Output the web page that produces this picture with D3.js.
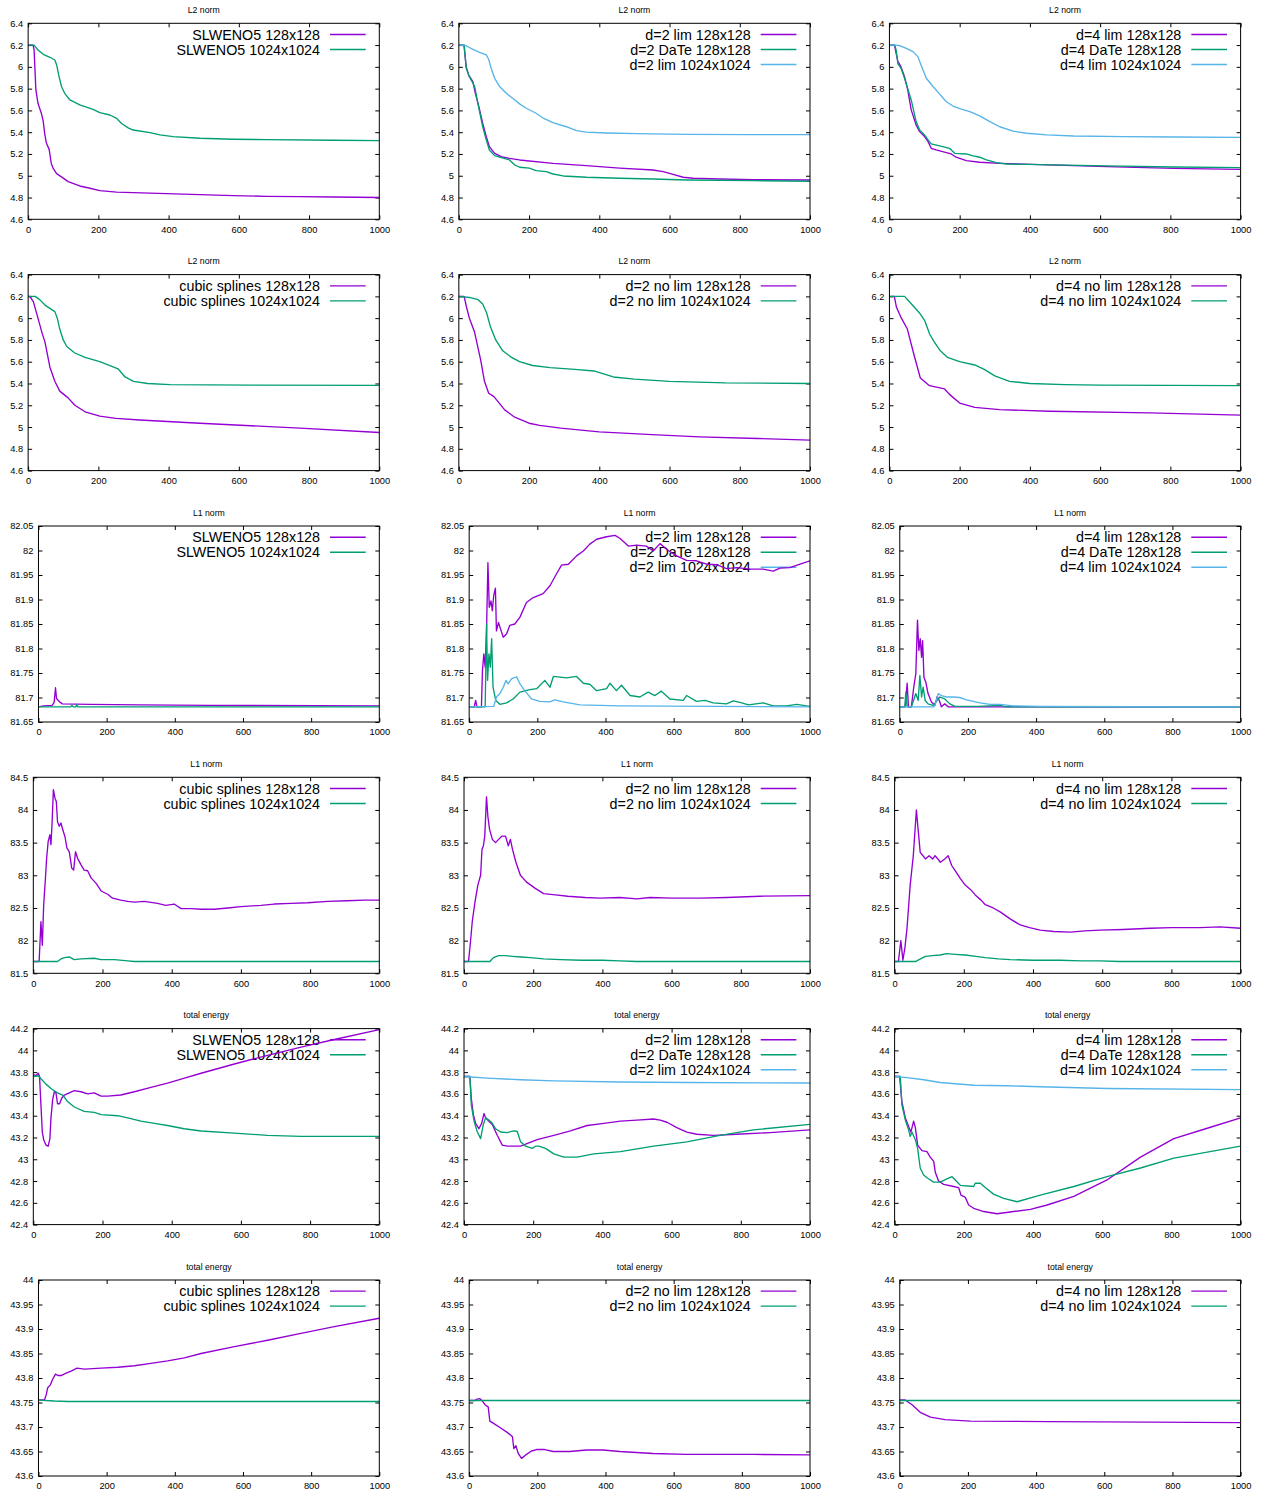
<!DOCTYPE html>
<html>
<head>
<meta charset="utf-8">
<script src="https://cdn.jsdelivr.net/npm/d3@7"></script>
<style>
  body { margin: 0; background: #fff; }
  svg { display: block; font-family: "Liberation Sans", Arial, sans-serif; }
</style>
</head>
<body>
<div id="chart"></div>
<script>
// ---- tick values ----
const xTicks = [0, 200, 400, 600, 800, 1000];
const ticksL2 = [4.6, 4.8, 5, 5.2, 5.4, 5.6, 5.8, 6, 6.2, 6.4];
const ticksL1a = [81.65, 81.7, 81.75, 81.8, 81.85, 81.9, 81.95, 82, 82.05];
const ticksL1b = [81.5, 82, 82.5, 83, 83.5, 84, 84.5];
const ticksEa = [42.4, 42.6, 42.8, 43, 43.2, 43.4, 43.6, 43.8, 44, 44.2];
const ticksEb = [43.6, 43.65, 43.7, 43.75, 43.8, 43.85, 43.9, 43.95, 44];

// ---- legend labels ----
const labelsSlweno = ['SLWENO5 128x128', 'SLWENO5 1024x1024'];
const labelsCubic = ['cubic splines 128x128', 'cubic splines 1024x1024'];
const labelsD2 = ['d=2 lim 128x128', 'd=2 DaTe 128x128', 'd=2 lim 1024x1024'];
const labelsD4 = ['d=4 lim 128x128', 'd=4 DaTe 128x128', 'd=4 lim 1024x1024'];
const labelsD2nolim = ['d=2 no lim 128x128', 'd=2 no lim 1024x1024'];
const labelsD4nolim = ['d=4 no lim 128x128', 'd=4 no lim 1024x1024'];

// ---- L2 norm ----
const l2Slweno128 = [[0,6.2],[14,6.2],[17,6.155],[22,5.79],[28,5.665],[38,5.57],[43,5.5],[47,5.39],[52,5.3],[60,5.24],[66,5.11],[71,5.07],[81,5.02],[95,4.99],[114,4.946],[147,4.906],[176,4.885],[204,4.863],[252,4.85],[299,4.845],[394,4.836],[489,4.827],[584,4.818],[679,4.811],[774,4.808],[869,4.805],[1000,4.8]];
const l2Slweno1024 = [[0,6.2],[17,6.2],[28,6.155],[43,6.115],[62,6.088],[76,6.063],[81,6.02],[88,5.91],[95,5.82],[104,5.757],[119,5.696],[147,5.65],[185,5.61],[204,5.58],[233,5.558],[252,5.527],[266,5.48],[285,5.44],[299,5.42],[347,5.396],[375,5.375],[413,5.359],[489,5.344],[584,5.335],[679,5.332],[869,5.326],[1000,5.322]];
const l2D2lim128 = [[0,6.2],[15,6.2],[16,6.155],[21,6.0],[28,5.925],[40,5.864],[47,5.757],[57,5.635],[68,5.48],[78,5.36],[87,5.267],[102,5.206],[121,5.175],[144,5.16],[173,5.145],[268,5.114],[363,5.093],[458,5.07],[553,5.053],[582,5.038],[610,5.013],[639,4.986],[667,4.977],[743,4.97],[838,4.964],[1000,4.961]];
const l2D2date128 = [[0,6.2],[15,6.2],[16,6.17],[21,5.987],[30,5.91],[45,5.82],[57,5.62],[68,5.45],[78,5.33],[87,5.237],[102,5.185],[121,5.166],[144,5.145],[159,5.1],[173,5.078],[201,5.07],[220,5.047],[249,5.038],[268,5.016],[297,4.998],[363,4.986],[458,4.977],[553,4.97],[648,4.961],[838,4.955],[1000,4.949]];
const l2D2lim1024 = [[0,6.2],[15,6.2],[21,6.194],[40,6.16],[59,6.134],[78,6.11],[85,6.07],[92,5.987],[102,5.895],[116,5.82],[135,5.757],[154,5.71],[173,5.66],[192,5.62],[220,5.574],[240,5.53],[268,5.488],[306,5.45],[335,5.414],[363,5.4],[420,5.393],[506,5.387],[648,5.38],[838,5.378],[1000,5.378]];
const l2D4lim128 = [[0,6.2],[15,6.2],[17,6.155],[24,6.05],[33,6.0],[43,5.91],[52,5.79],[62,5.605],[76,5.466],[86,5.405],[100,5.36],[110,5.313],[119,5.252],[133,5.237],[162,5.212],[176,5.2],[190,5.17],[219,5.139],[257,5.124],[314,5.114],[429,5.102],[619,5.084],[810,5.068],[1000,5.059]];
const l2D4date128 = [[0,6.2],[15,6.2],[19,6.155],[24,6.03],[33,5.987],[43,5.895],[52,5.8],[62,5.696],[76,5.497],[86,5.42],[100,5.375],[110,5.33],[119,5.292],[143,5.274],[171,5.252],[186,5.206],[219,5.2],[238,5.182],[257,5.17],[276,5.145],[305,5.12],[333,5.108],[429,5.102],[619,5.09],[810,5.08],[1000,5.075]];
const l2D4lim1024 = [[0,6.2],[20,6.2],[29,6.194],[48,6.17],[67,6.14],[81,6.094],[90,6.017],[105,5.895],[124,5.82],[143,5.75],[162,5.68],[181,5.64],[200,5.616],[229,5.589],[257,5.55],[286,5.497],[314,5.45],[352,5.41],[390,5.39],[448,5.375],[524,5.365],[667,5.359],[810,5.356],[1000,5.353]];
const l2Cubic128 = [[0,6.2],[5,6.2],[15,6.15],[28,6.0],[40,5.86],[48,5.78],[62,5.55],[76,5.42],[90,5.33],[113,5.27],[133,5.2],[162,5.14],[204,5.1],[250,5.08],[318,5.065],[489,5.035],[774,4.99],[1000,4.95]];
const l2Cubic1024 = [[0,6.2],[20,6.2],[33,6.17],[48,6.12],[62,6.09],[76,6.06],[83,6.0],[90,5.9],[100,5.8],[110,5.74],[133,5.68],[162,5.64],[204,5.6],[233,5.565],[256,5.535],[276,5.46],[300,5.42],[340,5.4],[404,5.39],[632,5.385],[1000,5.383]];
const l2D2nolim128 = [[0,6.2],[15,6.2],[22,6.1],[30,6.0],[45,5.87],[53,5.75],[62,5.62],[73,5.42],[85,5.31],[100,5.28],[115,5.22],[130,5.16],[159,5.09],[200,5.035],[230,5.015],[290,4.99],[400,4.955],[550,4.93],[686,4.91],[850,4.895],[1000,4.88]];
const l2D2nolim1024 = [[0,6.2],[30,6.19],[55,6.17],[68,6.13],[79,6.05],[90,5.92],[105,5.8],[125,5.7],[150,5.64],[173,5.6],[210,5.565],[260,5.545],[330,5.53],[385,5.515],[410,5.49],[440,5.46],[500,5.44],[600,5.42],[760,5.405],[1000,5.4]];
const l2D4nolim128 = [[0,6.2],[14,6.2],[20,6.1],[34,6.0],[51,5.9],[71,5.65],[88,5.45],[114,5.38],[157,5.35],[171,5.3],[200,5.22],[243,5.18],[314,5.16],[456,5.145],[741,5.13],[1000,5.11]];
const l2D4nolim1024 = [[0,6.2],[43,6.2],[57,6.15],[71,6.1],[85,6.05],[100,5.98],[115,5.85],[128,5.78],[145,5.7],[165,5.64],[200,5.6],[243,5.57],[270,5.53],[300,5.47],[342,5.42],[400,5.4],[500,5.39],[600,5.385],[1000,5.38]];

// ---- L1 norm ----
const l1Slweno128 = [[0,81.681],[15,81.683],[40,81.684],[46,81.69],[50,81.72],[53,81.698],[58,81.694],[64,81.69],[70,81.687],[150,81.686],[300,81.685],[500,81.684],[1000,81.683]];
const l1Slweno1024 = [[0,81.681],[95,81.681],[98,81.684],[102,81.681],[110,81.681],[112,81.686],[115,81.681],[1000,81.681]];
const l1D2lim128 = [[0,81.681],[15,81.681],[19,81.694],[23,81.681],[36,81.681],[39,81.755],[43,81.789],[47,81.762],[51,81.836],[55,81.975],[59,81.884],[64,81.897],[68,81.877],[72,81.908],[77,81.923],[80,81.836],[86,81.853],[92,81.84],[100,81.823],[110,81.83],[119,81.847],[134,81.85],[149,81.864],[168,81.894],[188,81.904],[217,81.912],[237,81.928],[256,81.952],[271,81.97],[291,81.972],[315,81.989],[335,81.999],[354,82.013],[374,82.023],[403,82.028],[428,82.031],[442,82.025],[467,82.009],[491,82.011],[520,82.009],[540,81.999],[560,82.014],[584,82.0],[609,81.989],[638,81.98],[667,81.979],[697,81.972],[726,81.971],[755,81.963],[785,81.965],[824,81.962],[863,81.962],[892,81.958],[912,81.964],[941,81.965],[971,81.972],[1000,81.979]];
const l1D2date128 = [[0,81.681],[47,81.681],[51,81.85],[54,81.735],[58,81.789],[62,81.762],[66,81.82],[70,81.721],[78,81.694],[90,81.686],[110,81.689],[129,81.697],[149,81.711],[178,81.716],[198,81.718],[222,81.735],[237,81.721],[247,81.743],[286,81.74],[315,81.743],[335,81.729],[354,81.727],[374,81.714],[403,81.718],[413,81.729],[432,81.714],[447,81.725],[472,81.704],[501,81.701],[525,81.711],[545,81.704],[564,81.713],[589,81.697],[628,81.694],[638,81.704],[667,81.692],[692,81.694],[716,81.689],[755,81.687],[775,81.693],[800,81.689],[819,81.685],[863,81.689],[892,81.683],[931,81.683],[961,81.686],[1000,81.682]];
const l1D2lim1024 = [[0,81.681],[72,81.682],[80,81.701],[90,81.708],[100,81.721],[108,81.735],[114,81.728],[124,81.738],[139,81.742],[149,81.728],[163,81.714],[183,81.697],[207,81.692],[237,81.691],[251,81.695],[276,81.691],[325,81.685],[442,81.683],[1000,81.681]];
const l1D4lim128 = [[0,81.681],[16,81.681],[21.6,81.729],[25.5,81.681],[34,81.681],[41,81.721],[47,81.748],[52,81.858],[56,81.796],[60,81.82],[64,81.782],[67,81.816],[71,81.741],[76.5,81.731],[83,81.708],[93,81.691],[103,81.684],[110,81.702],[116,81.694],[122,81.681],[132,81.687],[142,81.681],[1000,81.681]];
const l1D4date128 = [[0,81.681],[15,81.681],[17.6,81.711],[21.6,81.681],[34,81.681],[39,81.691],[47,81.708],[54,81.694],[59,81.745],[64,81.701],[68.6,81.721],[74.5,81.694],[83,81.687],[98,81.684],[110,81.694],[117.6,81.701],[132,81.697],[147,81.687],[162,81.682],[230,81.682],[294,81.684],[314,81.681],[1000,81.681]];
const l1D4lim1024 = [[0,81.681],[100,81.681],[103,81.684],[113,81.708],[122.5,81.704],[137,81.701],[157,81.701],[176,81.7],[196,81.695],[216,81.692],[235,81.689],[265,81.686],[294,81.686],[333,81.683],[412,81.682],[1000,81.681]];
const l1Cubic128 = [[0,81.68],[15,81.68],[17,81.7],[22,82.29],[26,81.93],[30,82.55],[35,82.95],[38.5,83.26],[43,83.52],[48,83.62],[51,83.47],[54,83.77],[58,84.31],[62.6,84.18],[66.5,84.13],[70,83.82],[75,83.75],[80,83.8],[85,83.7],[91.5,83.59],[97,83.42],[104,83.36],[111,83.11],[116.6,83.08],[122,83.36],[128,83.26],[138,83.16],[147,83.08],[157,83.07],[167,82.96],[181,82.88],[196,82.76],[215,82.71],[229,82.65],[253,82.62],[273,82.6],[292,82.59],[321,82.6],[359,82.57],[383,82.54],[407,82.56],[427,82.49],[456,82.49],[485,82.48],[523,82.48],[562,82.5],[600,82.52],[658,82.54],[696,82.56],[745,82.57],[793,82.58],[851,82.6],[908,82.61],[957,82.62],[1000,82.62]];
const l1Cubic1024 = [[0,81.68],[70,81.68],[80,81.72],[90,81.74],[104,81.75],[118,81.71],[138,81.72],[176,81.73],[196,81.71],[234,81.71],[273,81.69],[292,81.68],[1000,81.68]];
const l1D2nolim128 = [[0,81.68],[13,81.68],[18,81.94],[24,82.3],[32,82.6],[40,82.85],[48,83.0],[52,83.4],[56,83.45],[60,83.6],[65,84.2],[69,83.9],[74,83.7],[82,83.55],[91,83.5],[100,83.55],[110,83.6],[120,83.6],[128,83.45],[134,83.55],[140,83.4],[150,83.2],[163,83.0],[180,82.9],[206,82.8],[230,82.72],[264,82.7],[300,82.68],[350,82.66],[394,82.65],[450,82.66],[500,82.64],[538,82.66],[600,82.65],[682,82.65],[760,82.66],[855,82.68],[1000,82.69]];
const l1D2nolim1024 = [[0,81.68],[75,81.68],[85,81.74],[100,81.77],[120,81.77],[140,81.76],[165,81.75],[192,81.74],[230,81.72],[278,81.71],[340,81.7],[400,81.7],[450,81.69],[500,81.68],[1000,81.68]];
const l1D4nolim128 = [[0,81.68],[11,81.68],[18,82.0],[24,81.7],[30,81.9],[36,82.2],[45,82.85],[50,83.1],[54,83.3],[63,84.0],[68,83.7],[74,83.35],[82,83.3],[89,83.25],[100,83.3],[110,83.25],[117,83.3],[125,83.25],[132,83.2],[145,83.25],[155,83.3],[165,83.15],[175,83.07],[190,82.95],[204,82.85],[220,82.78],[233,82.7],[250,82.62],[262,82.55],[285,82.5],[305,82.44],[335,82.33],[363,82.24],[390,82.2],[421,82.16],[460,82.14],[508,82.13],[550,82.15],[594,82.16],[660,82.17],[739,82.19],[800,82.2],[883,82.2],[940,82.21],[1000,82.19]];
const l1D4nolim1024 = [[0,81.68],[60,81.68],[75,81.72],[89,81.76],[110,81.77],[132,81.78],[150,81.8],[175,81.79],[204,81.78],[235,81.76],[262,81.74],[300,81.72],[334,81.71],[400,81.7],[478,81.7],[540,81.69],[594,81.69],[650,81.68],[1000,81.68]];

// ---- total energy ----
const eSlweno128 = [[0,43.776],[8,43.77],[14.5,43.79],[18,43.76],[22,43.5],[26,43.25],[30,43.18],[36.6,43.13],[43,43.12],[48,43.19],[51,43.38],[56,43.55],[60.7,43.62],[65.5,43.61],[70,43.51],[76,43.51],[82,43.56],[89.6,43.59],[104,43.61],[118.5,43.63],[137.8,43.62],[157,43.6],[176,43.61],[195.6,43.58],[214.8,43.58],[253,43.59],[292,43.62],[340,43.66],[388,43.7],[437,43.745],[485,43.79],[581,43.875],[677,43.955],[774,44.03],[870,44.1],[1000,44.19]];
const eSlweno1024 = [[0,43.76],[14.5,43.767],[22,43.74],[36.6,43.69],[51,43.65],[70,43.61],[85,43.59],[99,43.53],[118.5,43.48],[147,43.44],[176,43.43],[196,43.41],[244,43.4],[273,43.38],[311,43.35],[350,43.33],[388,43.31],[436,43.28],[485,43.26],[581,43.24],[677,43.22],[774,43.21],[1000,43.21]];
const eD2lim128 = [[0,43.76],[17,43.76],[21,43.56],[27,43.41],[33.6,43.33],[43,43.28],[51,43.33],[57.7,43.42],[62.5,43.38],[72,43.35],[81.7,43.32],[96,43.22],[110.6,43.13],[125,43.12],[163.5,43.12],[211.5,43.18],[259.6,43.22],[307.7,43.26],[355.8,43.31],[404,43.33],[452,43.35],[500,43.36],[548,43.37],[567,43.36],[586.5,43.34],[615,43.29],[644,43.25],[673,43.23],[721,43.22],[788.5,43.23],[884.6,43.245],[1000,43.27]];
const eD2date128 = [[0,43.76],[17,43.76],[21,43.5],[29,43.35],[38.5,43.25],[48,43.19],[55.8,43.32],[62.5,43.38],[72,43.36],[81.7,43.33],[91.3,43.28],[105.8,43.25],[125,43.245],[144,43.26],[154,43.255],[163.5,43.16],[178,43.12],[197,43.1],[206.7,43.12],[216,43.12],[235.6,43.1],[259.6,43.05],[288.5,43.02],[327,43.02],[375,43.05],[452,43.07],[548,43.12],[644,43.16],[740,43.22],[836.5,43.27],[1000,43.32]];
const eD2lim1024 = [[0,43.76],[67,43.745],[163,43.73],[260,43.72],[452,43.71],[644,43.705],[1000,43.7]];
const eD4lim128 = [[0,43.76],[14.5,43.76],[21,43.53],[31,43.38],[40.5,43.3],[47,43.25],[55,43.35],[60,43.29],[66.5,43.13],[79,43.08],[93.5,43.07],[103,43.02],[113,42.98],[117.6,42.88],[127,42.8],[141.8,42.77],[170.7,42.75],[185,42.74],[192,42.67],[204.4,42.65],[214,42.58],[228.5,42.55],[257.5,42.52],[296,42.5],[344,42.52],[392.5,42.54],[440.7,42.58],[518,42.66],[614,42.81],[710.7,43.02],[807,43.19],[903.6,43.285],[1000,43.38]];
const eD4date128 = [[0,43.76],[16.4,43.76],[21,43.5],[31,43.36],[40.5,43.27],[45,43.21],[50,43.25],[60,43.18],[66.5,43.1],[74,42.92],[84,42.855],[93.5,42.83],[113,42.79],[132,42.79],[151,42.82],[166,42.84],[175.5,42.81],[190,42.76],[228.5,42.75],[233,42.78],[247.8,42.78],[262,42.74],[286,42.68],[315,42.64],[354,42.61],[421,42.67],[518,42.75],[614,42.84],[710.7,42.92],[807,43.01],[1000,43.12]];
const eD4lim1024 = [[0,43.76],[35.7,43.75],[84,43.73],[132,43.705],[228.5,43.68],[325,43.675],[421,43.666],[614,43.65],[1000,43.64]];
const eCubic128 = [[0,43.755],[17.6,43.755],[22.5,43.765],[27,43.78],[35,43.786],[42,43.798],[50,43.808],[56.7,43.805],[66.5,43.805],[81,43.81],[96,43.814],[113,43.82],[135,43.818],[184,43.82],[233,43.822],[281.5,43.825],[330,43.83],[379,43.835],[428,43.841],[477,43.85],[575,43.864],[672.5,43.877],[770,43.891],[868,43.905],[1000,43.922]];
const eCubic1024 = [[0,43.755],[47,43.753],[86,43.752],[1000,43.752]];
const eD2nolim128 = [[0,43.754],[16.6,43.754],[23.5,43.757],[31,43.758],[39,43.753],[47,43.745],[55.8,43.741],[60.7,43.712],[70.5,43.708],[90,43.699],[109.6,43.69],[119,43.685],[127,43.68],[131,43.656],[137,43.662],[144,43.646],[153.6,43.636],[166,43.643],[183,43.651],[197.6,43.654],[222,43.654],[246.6,43.65],[295.5,43.65],[344,43.653],[393,43.653],[442,43.65],[540,43.646],[638,43.644],[736,43.644],[833.6,43.644],[1000,43.643]];
const eD2nolim1024 = [[0,43.754],[200,43.754],[500,43.754],[1000,43.754]];
const eD4nolim128 = [[0,43.755],[16,43.755],[37,43.745],[60,43.73],[90,43.72],[133,43.715],[207,43.712],[440,43.711],[733,43.71],[1000,43.709]];
const eD4nolim1024 = [[0,43.754],[300,43.754],[1000,43.754]];

// ---- layout ----
const W = 1261, H = 1492;
const colX = [0, 430.7, 861.3];
const rowY = [0, 251.3, 502.7, 754, 1005.3, 1256.7];
const plotRight = 379.3, plotTop = 23.3, plotBottom = 219.3;
const colors = ['#9400d3', '#009e73', '#56b4e9'];

const panels = [
  {row: 0, col: 0, title: 'L2 norm', ticks: ticksL2, labels: labelsSlweno, series: [l2Slweno128, l2Slweno1024]},
  {row: 0, col: 1, title: 'L2 norm', ticks: ticksL2, labels: labelsD2, series: [l2D2lim128, l2D2date128, l2D2lim1024]},
  {row: 0, col: 2, title: 'L2 norm', ticks: ticksL2, labels: labelsD4, series: [l2D4lim128, l2D4date128, l2D4lim1024]},
  {row: 1, col: 0, title: 'L2 norm', ticks: ticksL2, labels: labelsCubic, series: [l2Cubic128, l2Cubic1024]},
  {row: 1, col: 1, title: 'L2 norm', ticks: ticksL2, labels: labelsD2nolim, series: [l2D2nolim128, l2D2nolim1024]},
  {row: 1, col: 2, title: 'L2 norm', ticks: ticksL2, labels: labelsD4nolim, series: [l2D4nolim128, l2D4nolim1024]},
  {row: 2, col: 0, title: 'L1 norm', ticks: ticksL1a, labels: labelsSlweno, series: [l1Slweno128, l1Slweno1024]},
  {row: 2, col: 1, title: 'L1 norm', ticks: ticksL1a, labels: labelsD2, series: [l1D2lim128, l1D2date128, l1D2lim1024]},
  {row: 2, col: 2, title: 'L1 norm', ticks: ticksL1a, labels: labelsD4, series: [l1D4lim128, l1D4date128, l1D4lim1024]},
  {row: 3, col: 0, title: 'L1 norm', ticks: ticksL1b, labels: labelsCubic, series: [l1Cubic128, l1Cubic1024]},
  {row: 3, col: 1, title: 'L1 norm', ticks: ticksL1b, labels: labelsD2nolim, series: [l1D2nolim128, l1D2nolim1024]},
  {row: 3, col: 2, title: 'L1 norm', ticks: ticksL1b, labels: labelsD4nolim, series: [l1D4nolim128, l1D4nolim1024]},
  {row: 4, col: 0, title: 'total energy', ticks: ticksEa, labels: labelsSlweno, series: [eSlweno128, eSlweno1024]},
  {row: 4, col: 1, title: 'total energy', ticks: ticksEa, labels: labelsD2, series: [eD2lim128, eD2date128, eD2lim1024]},
  {row: 4, col: 2, title: 'total energy', ticks: ticksEa, labels: labelsD4, series: [eD4lim128, eD4date128, eD4lim1024]},
  {row: 5, col: 0, title: 'total energy', ticks: ticksEb, labels: labelsCubic, series: [eCubic128, eCubic1024]},
  {row: 5, col: 1, title: 'total energy', ticks: ticksEb, labels: labelsD2nolim, series: [eD2nolim128, eD2nolim1024]},
  {row: 5, col: 2, title: 'total energy', ticks: ticksEb, labels: labelsD4nolim, series: [eD4nolim128, eD4nolim1024]}
];

const svg = d3.select('#chart').append('svg').attr('width', W).attr('height', H);
svg.append('rect').attr('width', W).attr('height', H).attr('fill', '#fff');

const fmt = v => String(+v.toFixed(2));
const tickFont = 9.3;
const lw = 1.35;

function drawPanel(p, idx) {
  const g = svg.append('g').attr('transform', `translate(${colX[p.col]},${rowY[p.row]})`);

  // left margin follows the widest y label, like gnuplot does
  const probe = g.append('text').attr('font-size', tickFont);
  let maxW = 0;
  p.ticks.forEach(v => { probe.text(fmt(v)); maxW = Math.max(maxW, probe.node().getComputedTextLength()); });
  probe.remove();
  const left = maxW + 15.2;

  const x = d3.scaleLinear().domain([0, 1000]).range([left, plotRight]);
  const y = d3.scaleLinear().domain(d3.extent(p.ticks)).range([plotBottom, plotTop]);

  const styleAxis = a => {
    a.select('.domain').remove();
    a.selectAll('line').attr('stroke', '#000');
    a.selectAll('text').attr('font-size', tickFont).attr('fill', '#000').attr('font-family', null);
  };

  g.append('g').attr('transform', `translate(0,${plotBottom})`)
    .call(d3.axisBottom(x).tickValues(xTicks).tickFormat(fmt).tickSize(-4).tickPadding(6.7)).call(styleAxis);
  g.append('g').attr('transform', `translate(0,${plotTop})`)
    .call(d3.axisTop(x).tickValues(xTicks).tickFormat('').tickSize(-4)).call(styleAxis);
  g.append('g').attr('transform', `translate(${left},0)`)
    .call(d3.axisLeft(y).tickValues(p.ticks).tickFormat(fmt).tickSize(-4).tickPadding(5)).call(styleAxis);
  g.append('g').attr('transform', `translate(${plotRight},0)`)
    .call(d3.axisRight(y).tickValues(p.ticks).tickFormat('').tickSize(-4)).call(styleAxis);

  g.append('text')
    .attr('x', (left + plotRight) / 2).attr('y', 13.1)
    .attr('text-anchor', 'middle').attr('font-size', 8.7)
    .text(p.title);

  // key
  p.labels.forEach((lab, i) => {
    const yc = Math.round(plotTop + 10.7 + i * 14.8) + 0.5;
    g.append('text')
      .attr('x', plotRight - 59.3).attr('y', yc).attr('dy', '0.36em')
      .attr('text-anchor', 'end').attr('font-size', 14.3)
      .text(lab);
    g.append('line')
      .attr('x1', plotRight - 49.3).attr('x2', plotRight - 13.6)
      .attr('y1', yc).attr('y2', yc)
      .attr('stroke', colors[i]).attr('stroke-width', lw);
  });

  const clipId = 'clip' + idx;
  g.append('clipPath').attr('id', clipId)
    .append('rect').attr('x', left).attr('y', plotTop)
    .attr('width', plotRight - left).attr('height', plotBottom - plotTop);

  const line = d3.line().x(d => x(d[0])).y(d => y(d[1]));
  g.append('g').attr('clip-path', `url(#${clipId})`)
    .selectAll('path')
    .data(p.series)
    .enter().append('path')
      .attr('d', line)
      .attr('fill', 'none')
      .attr('stroke', (d, i) => colors[i])
      .attr('stroke-width', lw)
      .attr('stroke-linejoin', 'round');

  g.append('rect')
    .attr('x', left).attr('y', plotTop)
    .attr('width', plotRight - left).attr('height', plotBottom - plotTop)
    .attr('fill', 'none').attr('stroke', '#000').attr('stroke-width', 1);
}

panels.forEach(drawPanel);
</script>
</body>
</html>
